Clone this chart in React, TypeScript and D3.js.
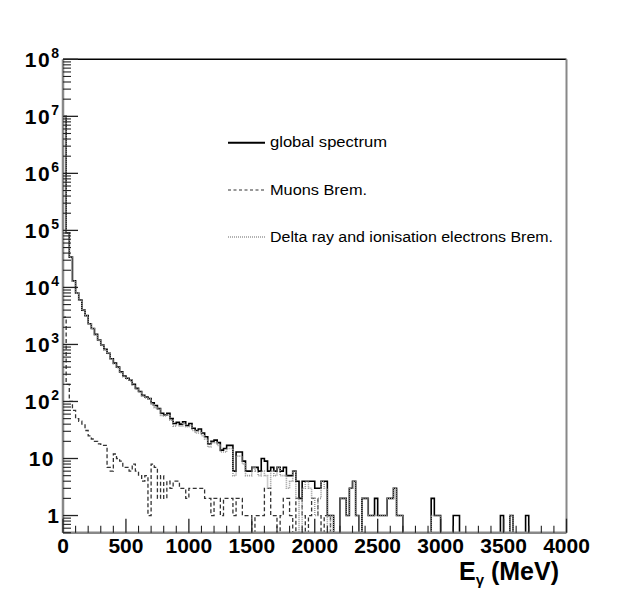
import * as d3 from "d3";
import React from "react";

// 25 MeV bins starting at 0 MeV
const BIN_WIDTH = 25;

const globalCounts = [
  1e7, 9e4, 3.4e4, 1.3e4, 8000, 6000, 4000, 3200, 2300, 1900,
  1500, 1200, 980, 820, 700, 560, 470, 400, 330, 280,
  255, 235, 200, 170, 150, 128, 120, 112, 95, 85,
  75, 62, 58, 62, 50, 41, 43, 40, 44, 38,
  41, 34, 31, 33, 28, 24, 18, 20, 21, 19,
  14, 15, 17, 17, 6, 13, 13, 9, 6, 6,
  7, 7, 6, 10, 9, 6, 7, 6, 7, 6,
  7, 5, 5, 6, 4, 2, 4, 4, 4, 4,
  3, 3, 4, 4, 1, 1, 0, 0, 2, 2,
  1, 3, 4, 1, 0, 2, 2, 1, 1, 2,
  1, 1, 1, 2, 2, 3, 1, 1, 0, 0,
  0, 0, 0, 0, 0, 0, 0, 2, 1, 1,
  0, 0, 0, 0, 1, 1, 0, 0, 0, 0,
  0, 0, 0, 0, 0, 0, 0, 0, 0, 1,
  0, 0, 1, 0, 0, 0, 0, 1, 0, 0,
];

const muonCounts = [
  3000, 200, 100, 70, 50, 45, 40, 31, 25, 22,
  20, 18, 17, 17, 7, 6, 12, 10, 9, 7,
  7, 6, 8, 6, 5, 4, 5, 1, 8, 7,
  2, 5, 2, 4, 3, 4, 4, 3, 3, 2,
  3, 3, 3, 3, 3, 2, 2, 1, 2, 2,
  1, 2, 2, 2, 1, 2, 2, 1, 1, 1,
  0, 1, 1, 1, 3, 3, 1, 1, 0, 1,
  2, 2, 1, 0, 2, 2, 1, 0, 1, 2,
  2, 1, 0, 1, 1, 0, 0, 0, 0, 0,
  0, 0, 0, 0, 0, 0, 0, 0, 0, 0,
  0, 0, 0, 0, 0, 0, 0, 0, 0, 0,
  0, 0, 0, 0, 0, 0, 0, 0, 0, 0,
  0, 0, 0, 0, 0, 0, 0, 0, 0, 0,
  0, 0, 0, 0, 0, 0, 0, 0, 0, 0,
  0, 0, 0, 0, 0, 0, 0, 0, 0, 0,
];

const deltaCounts = [
  1e7, 8.9e4, 3.39e4, 1.29e4, 7950, 5950, 3960, 3170, 2275, 1880,
  1480, 1180, 963, 803, 693, 554, 458, 390, 321, 273,
  248, 229, 192, 164, 145, 124, 115, 111, 87, 78,
  73, 57, 56, 58, 47, 37, 39, 37, 41, 36,
  38, 31, 28, 30, 25, 22, 16, 19, 19, 17,
  13, 13, 15, 15, 5, 11, 11, 8, 5, 5,
  7, 6, 5, 6, 5, 3, 6, 5, 7, 5,
  5, 3, 4, 6, 2, 0, 3, 4, 3, 2,
  1, 2, 4, 3, 0, 1, 0, 0, 2, 2,
  1, 3, 4, 1, 0, 2, 2, 1, 1, 1,
  1, 1, 1, 2, 2, 3, 1, 1, 0, 0,
  0, 0, 0, 0, 0, 0, 0, 1, 1, 1,
  0, 0, 0, 0, 0, 0, 0, 0, 0, 0,
  0, 0, 0, 0, 0, 0, 0, 0, 0, 0,
  0, 0, 1, 0, 0, 0, 0, 0, 0, 0,
];

const xTicks = [0, 500, 1000, 1500, 2000, 2500, 3000, 3500, 4000];
const yDecades = [0, 1, 2, 3, 4, 5, 6, 7, 8];
const legendLabels = [
  "global spectrum",
  "Muons Brem.",
  "Delta ray and ionisation electrons Brem.",
];

const W = 631;
const H = 592;
const left = 63;
const right = 566.5;
const top = 59.3;
const bottom = 532.7;

const x = d3.scaleLinear().domain([0, 4000]).range([left, right]);
const y = d3.scaleLog().domain([0.5, 1e8]).range([bottom, top]);

const stepPath = (counts: number[]) => {
  const yy = (v: number) => (v > 0 ? Math.max(top, Math.min(bottom, y(v))) : bottom);
  const pts: [number, number][] = [[x(0), bottom]];
  counts.forEach((v, i) => pts.push([x(i * BIN_WIDTH), yy(v)]));
  const end = x(counts.length * BIN_WIDTH);
  pts.push([end, yy(counts[counts.length - 1])]);
  pts.push([end, bottom]);
  return d3.line().curve(d3.curveStepAfter)(pts) || "";
};

const font = "'Liberation Sans', Arial, Helvetica, sans-serif";

const App: React.FC = () => {
  const minorX = d3.range(0, 4001, 100).filter((v) => v % 500 !== 0);
  const minorY: number[] = [];
  for (let d = -1; d < 8; d++) {
    for (let k = 2; k <= 9; k++) {
      const v = k * Math.pow(10, d);
      if (v >= 0.5 && v <= 1e8) minorY.push(v);
    }
  }
  const legendStyles = [
    { stroke: "#000", width: 2, dash: "none", ly: 142.7, len: 117 },
    { stroke: "#333", width: 1.2, dash: "3,2.5", ly: 190, len: 97 },
    { stroke: "#999", width: 1.5, dash: "1,1", ly: 237, len: 283 },
  ];

  return (
    <svg
      width={W}
      height={H}
      style={{ position: "absolute", left: 0, top: 0, background: "#fff" }}
      fontFamily={font}
    >
      <defs>
        <clipPath id="frame">
          <rect x={left} y={top} width={right - left} height={bottom - top} />
        </clipPath>
      </defs>

      {/* histograms */}
      <g clipPath="url(#frame)" fill="none">
        <path d={stepPath(globalCounts)} stroke="#000" strokeWidth={1.6} />
        <path d={stepPath(muonCounts)} stroke="#333" strokeWidth={1.3} strokeDasharray="4,2.5" />
        <path d={stepPath(deltaCounts)} stroke="#999" strokeWidth={1.6} strokeDasharray="1,1" />
      </g>

      {/* frame */}
      <line x1={left} x2={right} y1={top} y2={top} stroke="#000" strokeWidth={1.5} />
      <line x1={right} x2={right} y1={top} y2={bottom} stroke="#888" strokeWidth={2} />
      <line x1={left} x2={left} y1={top} y2={bottom} stroke="#888" strokeWidth={2.5} />
      <line x1={left} x2={right} y1={bottom} y2={bottom} stroke="#888" strokeWidth={2.5} />

      {/* x ticks */}
      {xTicks.map((t) => (
        <g key={"xt" + t}>
          <line x1={x(t)} x2={x(t)} y1={bottom} y2={bottom - 14} stroke="#222" strokeWidth={1.3} />
          <text x={x(t)} y={553} textAnchor="middle" fontSize={21} fontWeight="bold">
            {t}
          </text>
        </g>
      ))}
      {minorX.map((t) => (
        <line key={"xm" + t} x1={x(t)} x2={x(t)} y1={bottom} y2={bottom - 7} stroke="#222" strokeWidth={1.1} />
      ))}

      {/* y ticks */}
      {yDecades.map((d) => {
        const v = Math.pow(10, d);
        const yy = y(v);
        return (
          <g key={"yt" + d}>
            <line x1={left} x2={left + 15} y1={yy} y2={yy} stroke="#222" strokeWidth={1.3} />
            {d === 0 ? (
              <text x={59} y={yy + 7.5} textAnchor="end" fontSize={21} fontWeight="bold">1</text>
            ) : d === 1 ? (
              <text x={55} y={yy + 7.5} textAnchor="end" fontSize={21} fontWeight="bold" letterSpacing={1.5}>10</text>
            ) : (
              <text x={59} y={yy + 7.5} textAnchor="end" fontSize={21} fontWeight="bold">
                <tspan letterSpacing={1.5}>10</tspan>
                <tspan dy={-9} fontSize={14}>{d}</tspan>
              </text>
            )}
          </g>
        );
      })}
      {minorY.map((v, i) => (
        <line key={"ym" + i} x1={left} x2={left + 8} y1={y(v)} y2={y(v)} stroke="#222" strokeWidth={1.1} />
      ))}

      {/* x title */}
      <text x={559} y={580} textAnchor="end" fontSize={25} fontWeight="bold">
        E
        <tspan fontSize={15} dy={5}>γ</tspan>
        <tspan dy={-5}> (MeV)</tspan>
      </text>

      {/* legend */}
      {legendLabels.map((lab, i) => {
        const s = legendStyles[i];
        return (
          <g key={lab}>
            <line
              x1={228}
              x2={265}
              y1={s.ly}
              y2={s.ly}
              stroke={s.stroke}
              strokeWidth={s.width}
              strokeDasharray={s.dash}
            />
            <text x={270} y={s.ly + 4.5} fontSize={14} textLength={s.len} lengthAdjust="spacingAndGlyphs">
              {lab}
            </text>
          </g>
        );
      })}
    </svg>
  );
};

export default App;
